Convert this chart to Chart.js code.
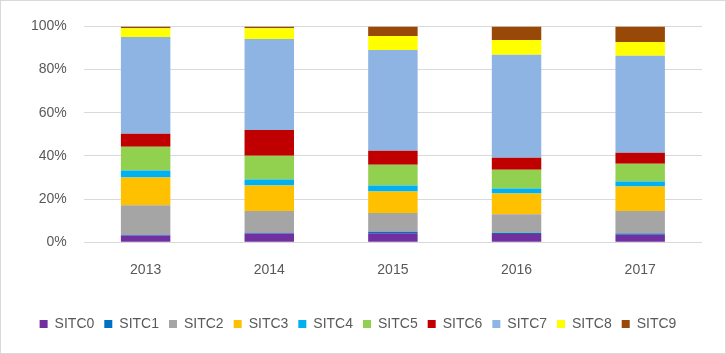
<!DOCTYPE html>
<html>
<head>
<meta charset="utf-8">
<script src="https://cdn.jsdelivr.net/npm/chart.js@4"></script>
<style>
  html, body { margin: 0; padding: 0; background: #fff; }
  #wrap { width: 724px; height: 352px; border: 1px solid #d9d9d9; }
</style>
</head>
<body>
<div id="wrap"><canvas id="chart" width="724" height="352"></canvas></div>
<script>
// Jahre und Anteile je SITC-Gruppe (in %)
const years = ['2013', '2014', '2015', '2016', '2017'];
const sitcNames = ['SITC0', 'SITC1', 'SITC2', 'SITC3', 'SITC4', 'SITC5', 'SITC6', 'SITC7', 'SITC8', 'SITC9'];
const sitcColors = ['#7030a0', '#0070c0', '#a5a5a5', '#ffc000', '#00b0f0', '#92d050', '#c00000', '#8eb4e3', '#ffff00', '#984807'];

const sitc0 = [3.1, 4.0, 4.1, 3.8, 3.4];
const sitc1 = [0.4, 0.4, 0.8, 0.5, 0.6];
const sitc2 = [13.6, 10.0, 8.6, 8.7, 10.4];
const sitc3 = [12.9, 11.9, 10.0, 9.6, 11.4];
const sitc4 = [3.2, 2.8, 2.8, 2.3, 2.3];
const sitc5 = [11.0, 11.0, 9.6, 8.7, 8.3];
const sitc6 = [6.0, 11.9, 6.5, 5.5, 5.0];
const sitc7 = [44.9, 42.2, 46.7, 47.8, 45.0];
const sitc8 = [4.1, 5.0, 6.5, 6.8, 6.4];
const sitc9 = [0.8, 0.8, 4.4, 6.3, 7.2];

const series = [sitc0, sitc1, sitc2, sitc3, sitc4, sitc5, sitc6, sitc7, sitc8, sitc9];

const datasets = series.map((vals, i) => ({
    label: sitcNames[i],
    data: vals,
    backgroundColor: sitcColors[i],
    borderWidth: 0,
    barPercentage: 0.4,
    categoryPercentage: 1.0
}));

const font = { family: 'Liberation Sans', size: 14 };

new Chart(document.getElementById('chart'), {
    type: 'bar',
    data: { labels: years, datasets: datasets },
    options: {
        responsive: false,
        animation: false,
        layout: { padding: { left: 13, right: 23, top: 4, bottom: 12 } },
        plugins: {
            legend: {
                position: 'bottom',
                labels: {
                    boxWidth: 8,
                    boxHeight: 8,
                    padding: 10,
                    color: '#595959',
                    font: font
                }
            },
            tooltip: { enabled: false }
        },
        scales: {
            x: {
                stacked: true,
                grid: { display: false },
                border: { display: false },
                ticks: { color: '#595959', font: font, padding: 12 },
                afterFit: scale => { scale.height += 16; }
            },
            y: {
                stacked: true,
                min: 0,
                max: 100,
                ticks: {
                    stepSize: 20,
                    color: '#595959',
                    font: font,
                    padding: 17,
                    callback: v => v + '%'
                },
                grid: { color: '#d9d9d9', drawTicks: false },
                border: { display: false }
            }
        }
    }
});
</script>
</body>
</html>
